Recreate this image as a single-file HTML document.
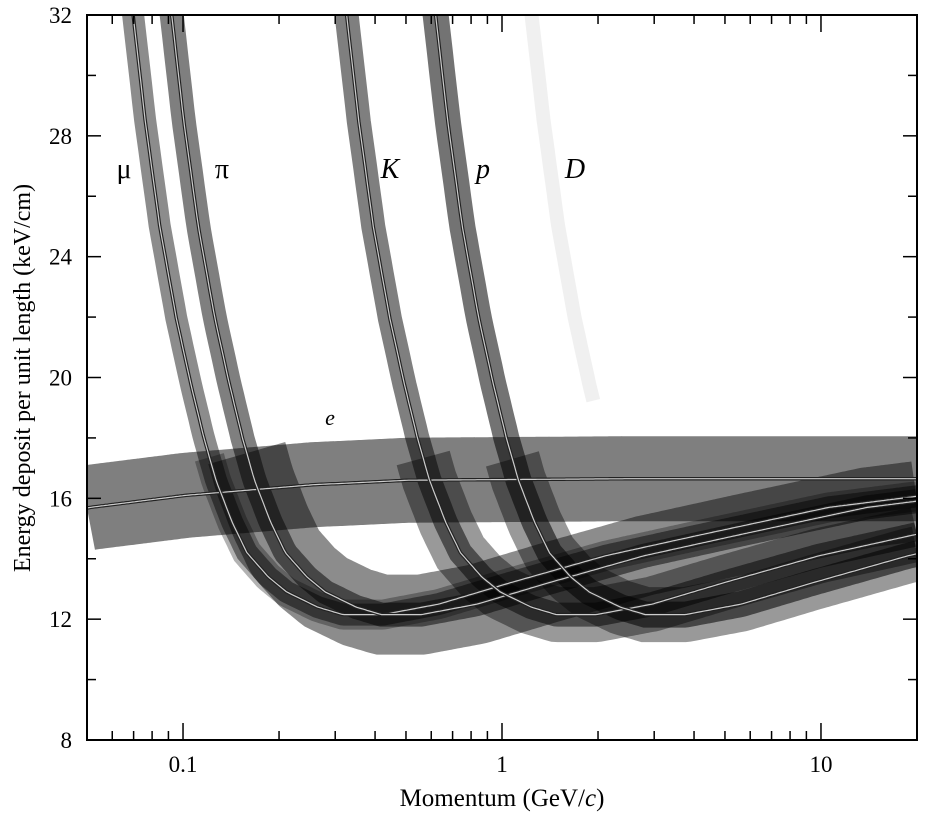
<!DOCTYPE html>
<html><head><meta charset="utf-8"><style>
body{margin:0;background:#fff;}
svg{display:block;font-family:"Liberation Serif",serif;}
</style></head><body>
<svg id="chart" width="935" height="821"></svg>
<script>
// Universal Bethe-Bloch curve: beta*gamma vs dE/dx (keV/cm)
const bgValues = [0.55,0.6,0.66,0.72,0.8,0.9,1.0,1.1,1.2,1.35,1.5,1.75,2,2.5,3,4,6,10,20,40,100,200,500,1000,5000,50000];
const dedxValues = [40,35.5,32,28.5,25,22,19.8,18,16.6,15.2,14.2,13.4,12.9,12.4,12.15,12.15,12.5,13.2,14.1,14.8,15.7,16.1,16.45,16.6,16.65,16.65];
const particles = ["e","mu","pi","K","p","D"];
const masses = [0.000511,0.1057,0.1396,0.4937,0.9383,1.8756];
const xTicks = [0.1,1,10];
const xTickLabels = ["0.1","1","10"];
const yTicks = [8,12,16,20,24,28,32];

const NS="http://www.w3.org/2000/svg";
const svg=document.getElementById('chart');
const L=87,R=917,T=15,B=740;
const xMin=0.05,xMax=20,yMin=8,yMax=32;
function X(p){return L+(Math.log10(p)-Math.log10(xMin))/(Math.log10(xMax)-Math.log10(xMin))*(R-L);}
function Y(v){return B-(v-yMin)/(yMax-yMin)*(B-T);}
function curve(bg){
  if(bg<=bgValues[0])return dedxValues[0];
  for(let i=1;i<bgValues.length;i++){if(bg<=bgValues[i]){const a=Math.log(bgValues[i-1]),b=Math.log(bgValues[i]);const t=(Math.log(bg)-a)/(b-a);return dedxValues[i-1]+t*(dedxValues[i]-dedxValues[i-1]);}}
  return dedxValues[dedxValues.length-1];
}
function mk(tag,attrs,parent){const e=document.createElementNS(NS,tag);for(const k in attrs)e.setAttribute(k,attrs[k]);(parent||svg).appendChild(e);return e;}
function pathFor(m,maxV,minV){
  minV=minV||0;
  let d='';let started=false;
  for(let i=0;i<=400;i++){
    const p=xMin*Math.pow(xMax/xMin,i/400);
    const v=curve(p/m);
    if(v>maxV||v<minV){started=false;continue;}
    d+=(started?'L':'M')+X(p).toFixed(1)+','+Y(Math.min(v,33)).toFixed(1);started=true;
  }
  return d;
}
const defs=mk('defs',{});
const clip=mk('clipPath',{id:'plotclip'},defs);
mk('rect',{x:L,y:T,width:R-L,height:B-T},clip);
const g=mk('g',{'clip-path':'url(#plotclip)'});


const bandW=[85,22,24,24,26,14];
const bandOp=[0.5,0.45,0.5,0.5,0.55,0.06];
const bandMin=[0,0,0,0,0,19];
const cloudW=[0,30,80,55,55,0];
const cloudOp=[0,0.3,0.45,0.4,0.4,0];
particles.forEach((n,i)=>{
  if(cloudW[i]>0){
    const c=mk('path',{d:pathFor(masses[i],17.5),fill:'none',stroke:'#000','stroke-opacity':cloudOp[i],'stroke-width':cloudW[i],'stroke-linecap':'butt'},g);
    
    
  }
});
particles.forEach((n,i)=>{
  const b=mk('path',{d:pathFor(masses[i],40,bandMin[i]),fill:'none',stroke:'#000','stroke-opacity':bandOp[i],'stroke-width':bandW[i]},g);
  
  
});
particles.forEach((n,i)=>{
  if(n==='D')return;
  const d=pathFor(masses[i],40);
  const l1=mk('path',{d:d,fill:'none',stroke:'#222','stroke-width':3.5},g);
  
  
  mk('path',{d:d,fill:'none',stroke:'#ccc','stroke-width':1.2},g);
});
const fr=mk('rect',{x:L,y:T,width:R-L,height:B-T,fill:'none',stroke:'#000','stroke-width':2});


for(let v=8;v<=32;v+=2){
  const len=(v%4===0)?14:9;
  const t1=mk('line',{x1:L,x2:L+len,y1:Y(v),y2:Y(v),stroke:'#000','stroke-width':1.5});
  
  
  mk('line',{x1:R,x2:R-len,y1:Y(v),y2:Y(v),stroke:'#000','stroke-width':1.5});
}
yTicks.forEach(v=>{
  const t=mk('text',{x:72,y:Y(v)+8,'text-anchor':'end','font-size':23});
  t.textContent=v;
  
  
});
for(let dec=0.01;dec<=10;dec*=10){
  for(let k=1;k<=9;k++){
    const p=dec*k; if(p<xMin||p>xMax)continue;
    const len=(k===1)?17:9;
    const t=mk('line',{x1:X(p),x2:X(p),y1:B,y2:B-len,stroke:'#000','stroke-width':1.5});
    
    
    mk('line',{x1:X(p),x2:X(p),y1:T,y2:T+len,stroke:'#000','stroke-width':1.5});
  }
}
xTicks.forEach((p,i)=>{
  const t=mk('text',{x:X(p),y:772,'text-anchor':'middle','font-size':23});
  t.textContent=xTickLabels[i];
  
  
});
const xt=mk('text',{x:502,y:806,'text-anchor':'middle','font-size':25});
xt.innerHTML='Momentum (GeV/<tspan font-style="italic">c</tspan>)';


const yt=mk('text',{x:0,y:0,'text-anchor':'middle','font-size':24,transform:'translate(30,378) rotate(-90)'});
yt.textContent='Energy deposit per unit length (keV/cm)';


const labels=[['μ',124,178,'normal','label-mu'],['π',222,178,'normal','label-pi'],['K',390,178,'italic','label-k'],['p',483,178,'italic','label-p'],['D',575,178,'italic','label-d'],['e',330,425,'italic','label-e']];
labels.forEach(a=>{
  const t=mk('text',{x:a[1],y:a[2],'text-anchor':'middle','font-size':a[0]==='e'?22:28,'font-style':a[3],fill:'#000'});
  t.textContent=a[0];
  
  
});
</script>
</body></html>
